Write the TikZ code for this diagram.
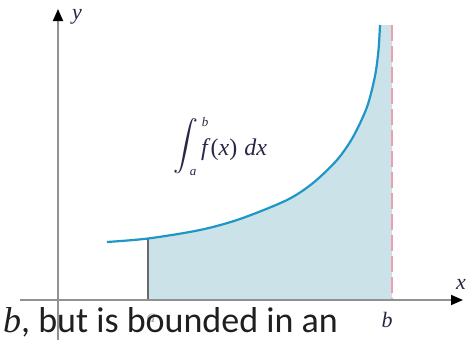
\documentclass[tikz,border=0pt]{standalone}
\usepackage{exscale}
\usepackage{fontspec}
\newfontfamily\carlitofont{Carlito}
\newfontfamily\timesfont{Liberation Serif}
\usetikzlibrary{arrows.meta}
\definecolor{curveblue}{RGB}{30,150,200}
\definecolor{areafill}{RGB}{203,226,232}
\definecolor{dashred}{RGB}{235,160,170}
\definecolor{axisgray}{RGB}{145,145,145}
\definecolor{edgegray}{RGB}{105,105,105}
\definecolor{labelink}{RGB}{40,40,70}
\tikzset{
  axisline/.style={draw=axisgray,line width=1.8pt,-{Triangle[length=12pt,width=10pt,fill=black,color=black]}},
  curveline/.style={draw=curveblue,line width=2.2pt},
  asymline/.style={draw=dashred,line width=1.8pt,dash pattern=on 16pt off 5pt},
  edgeline/.style={draw=edgegray,line width=1.4pt},
  axislabel/.style={font=\timesfont\fontsize{22}{22}\selectfont\itshape,text=labelink,inner sep=0pt},
  limlabel/.style={font=\timesfont\fontsize{13}{13}\selectfont\itshape,text=labelink,inner sep=0pt},
  bodytext/.style={font=\carlitofont\fontsize{36}{36}\selectfont,text=black!88,inner sep=0pt,anchor=base west}
}
\def\curvepts{(107,242) (148,238.5) (200,230) (240,219) (287,200) (313,183) (337,160) (353,137) (367,107) (375,76) (378.5,50) (380,25)}
\begin{document}
\begin{tikzpicture}[x=1pt,y=-1pt]
\useasboundingbox (0,0) rectangle (469,340);
\clip (0,0) rectangle (469,340);
% shaded area
\begin{scope}
  \clip (148,0) rectangle (392,300);
  \fill[areafill] plot[smooth] coordinates {\curvepts} -- (392,25) -- (392,300) -- (100,300) -- cycle;
\end{scope}
% edges of the region
\coordinate (aTop) at (148,238.5);
\coordinate (aBot) at (148,300);
\draw[edgeline] (aTop) -- (aBot);
\coordinate (bTop) at (392,25);
\coordinate (bBot) at (392,300);
\draw[asymline] (bTop) -- (bBot);
% curve
\draw[curveline] plot[smooth] coordinates {\curvepts};
% labels
\node[axislabel,text=labelink!40,font=\timesfont\fontsize{18}{18}\selectfont\itshape] (alab) at (151,318) {a};
\node[bodytext] (caption) at (3,332) {{\timesfont\itshape b}, but is bounded in an};
% axes
\coordinate (xStart) at (20,300);
\coordinate (xEnd) at (463,300);
\coordinate (yStart) at (58,340);
\coordinate (yEnd) at (58,9);
\draw[axisline] (xStart) -- (xEnd);
\draw[axisline] (yStart) -- (yEnd);
\node[axislabel] (ylab) at (77,17) {y};
\node[axislabel] (xlab) at (461,284) {x};
\node[axislabel] (blab) at (387,320) {b};
% integral
\node[inner sep=0pt,text=labelink] (intsign) at (186,146) {\fontsize{26}{26}\selectfont$\displaystyle\int$};
\node[limlabel] (uplim) at (205,122) {b};
\node[limlabel] (lowlim) at (193,173) {a};
\node[inner sep=0pt,text=labelink,anchor=base west,font=\timesfont\fontsize{24}{24}\selectfont] (integrand) at (201,155) {\textit{f}(\textit{x})\hspace{0.3em}\textit{dx}};
\end{tikzpicture}
\end{document}
